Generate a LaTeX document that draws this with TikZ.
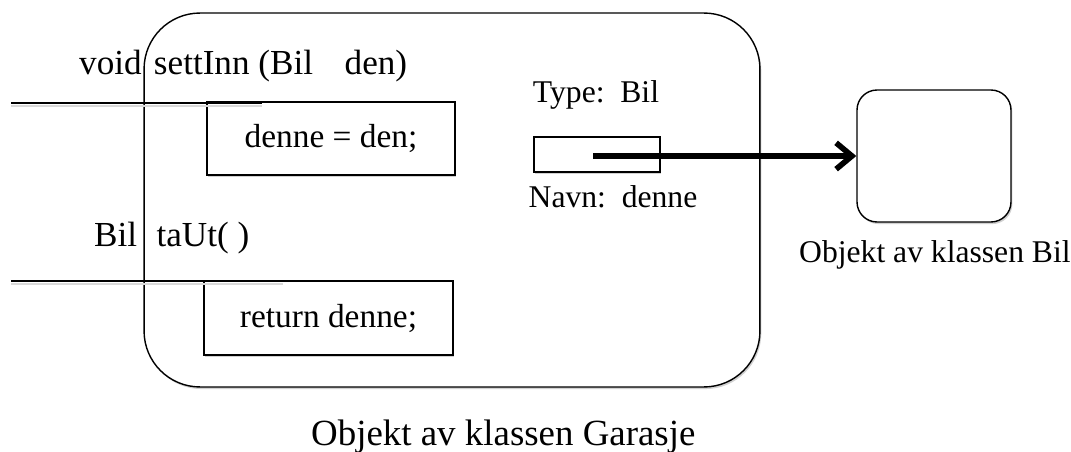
\documentclass[tikz,border=0pt]{standalone}
\usepackage{fontspec}
\setmainfont{Liberation Serif}
\usetikzlibrary{arrows.meta,shadows}

\begin{document}
\begin{tikzpicture}[x=0.02cm,y=-0.02cm,
  skygge/.style={drop shadow={shadow xshift=0.8pt,shadow yshift=-1.2pt,fill=black!18,opacity=1}},
  objekt/.style={draw,line width=0.8pt,fill=white,skygge},
  kodeboks/.style={draw,line width=0.7pt,fill=white,skygge,font=\fontsize{19}{22}\selectfont},
  metode/.style={line width=1pt},
  metodeskygge/.style={draw=black!15,line width=1.5pt},
  tekst/.style={font=\fontsize{18}{22}\selectfont},
  peker/.style={line width=3.2pt,-{Straight Barb[length=9pt,width=15pt]}}]
  \useasboundingbox (0,0) rectangle (1071,452);
  % objektet av klassen Garasje
  \node[objekt,rounded corners=1.12cm,minimum width=12.32cm,minimum height=7.48cm] (garasje) at (452,200) {};
  \node[anchor=base west,font=\fontsize{21}{25}\selectfont] (garasjenavn) at (305,445) {Objekt av klassen Garasje};
  % metodene
  \node[anchor=base west,font=\fontsize{20}{24}\selectfont] (settinn) at (73,75) {void\hspace{7pt}settInn (Bil\hspace{18pt}den)};
  \node[anchor=base west,font=\fontsize{20}{24}\selectfont] (taut) at (88,247) {Bil\hspace{11pt}taUt( )};
  \node[kodeboks,minimum width=4.96cm,minimum height=1.46cm] (settinnkropp) at (331,138.5) {denne = den;};
  \node[kodeboks,minimum width=4.98cm,minimum height=1.48cm] (tautkropp) at (328.5,318) {return denne;};
  \draw[metodeskygge] (11,106)--(262,106);
  \draw[metodeskygge] (11,284)--(283,284);
  \draw[metode] (11,103)--(262,103);
  \draw[metode] (11,281)--(283,281);
  % variabelen denne
  \node[tekst,anchor=base] (type) at (596,103) {Type:\ \ Bil};
  \node[objekt,line width=0.7pt,minimum width=2.52cm,minimum height=0.7cm] (denne) at (597,154.5) {};
  \node[tekst,anchor=base] (navn) at (613,208) {Navn:\ \ denne};
  % objektet av klassen Bil
  \node[objekt,rounded corners=0.4cm,minimum width=3.08cm,minimum height=2.64cm] (bil) at (934,156) {};
  \node[tekst,anchor=base west] (bilnavn) at (793,263) {Objekt av klassen Bil};
  \coordinate (start) at (593,156);
  \draw[peker] (start)--(bil.west);
\end{tikzpicture}
\end{document}
